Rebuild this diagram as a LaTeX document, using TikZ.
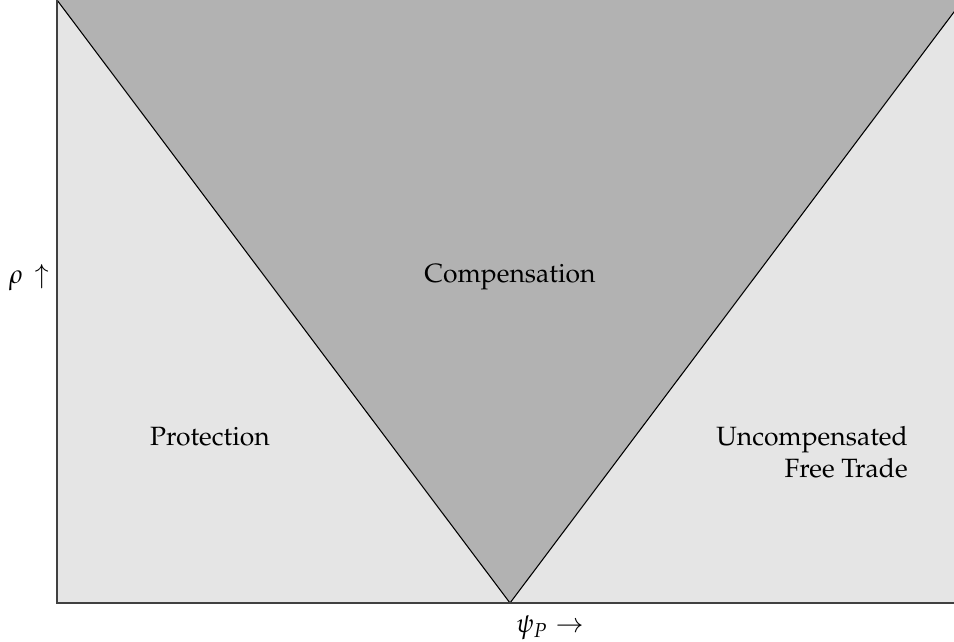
\documentclass[tikz,border=0pt]{standalone}
\usepackage[T1]{fontenc}
\usepackage{mathpazo}
\usetikzlibrary{positioning}

\begin{document}
\begin{tikzpicture}[
        x=0.378pt, y=0.378pt,
        font=\normalsize,
        lightzone/.style={fill=gray!20},
        darkzone/.style={fill=gray!60},
        border/.style={draw=black, line width=0.4pt},
        axis/.style={draw=black!75, line width=0.5pt},
        region/.style={align=center, inner sep=0pt}
    ]
        \useasboundingbox (0,0) rectangle (954,642);

        \coordinate (origin) at (57,39);
        \coordinate (topleft) at (57,642);
        \coordinate (vertex) at (510,39);
        \coordinate (topright) at (963,642);
        \coordinate (corner) at (954,642);
        \coordinate (xend) at (954,39);

        \begin{scope}
            \clip (0,0) rectangle (corner);
            \fill[lightzone] (origin) rectangle (corner);
            \fill[darkzone] (topleft) -- (vertex) -- (topright) -- cycle;
            \draw[border] (topleft) -- (vertex) -- (topright);
        \end{scope}
        \draw[axis] (topleft) -- (origin) -- (xend);

        \node[region] (comp) at (510,365) {Compensation};
        \node[region] (prot) at (210,205) {Protection};
        \node[region, align=right] (free) at (812,190) {Uncompensated\\Free Trade};
        \node[region] (rho) at (29,364) {$\rho\,\uparrow$};
        \node[region] (psi) at (550,14) {$\psi_P\rightarrow$};
    \end{tikzpicture}
\end{document}
